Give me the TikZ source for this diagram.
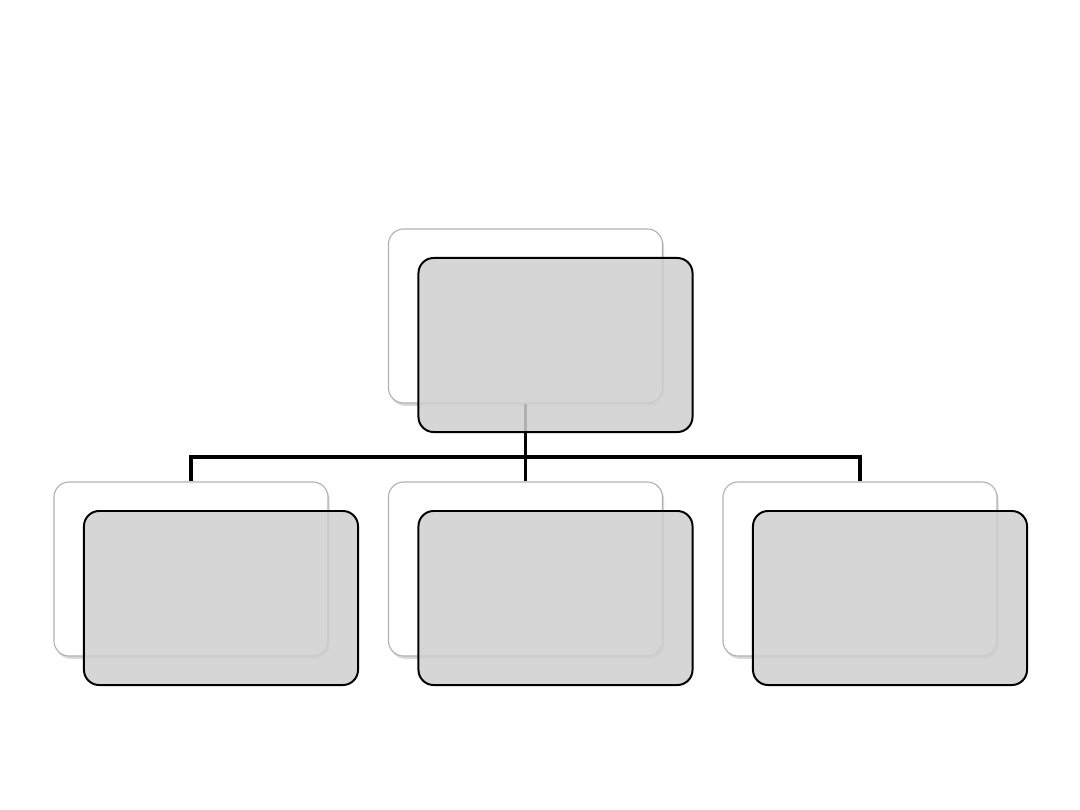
\documentclass[tikz,border=0pt]{standalone}
\usepackage{tikz}
\usetikzlibrary{positioning, shadows}

\begin{document}
\begin{tikzpicture}[x=0.025cm, y=-0.025cm,
    backbox/.style={rectangle, rounded corners=0.38cm, minimum width=6.85cm, minimum height=4.35cm,
                    inner sep=0pt, draw=black!30, line width=0.8pt, fill=white,
                    drop shadow={shadow xshift=0.4mm, shadow yshift=-0.7mm, opacity=0.3}},
    frontbox/.style={rectangle, rounded corners=0.38cm, minimum width=6.85cm, minimum height=4.35cm,
                     inner sep=0pt, draw=black, line width=1.4pt, fill=black!19, fill opacity=0.85},
    conn/.style={line width=2.3pt, black}]

    \useasboundingbox (0,0) rectangle (1080,810);

    % Back boxes
    \node[backbox] (backtop) at (525.5,316) {};
    \node[backbox] (backleft) at (191,569) {};
    \node[backbox] (backmid) at (525.5,569) {};
    \node[backbox] (backright) at (860,569) {};

    % Connectors
    \coordinate (branch) at (525.5,457);
    \draw[conn] (backtop.south) -- (branch);
    \draw[conn] (branch) -| (backleft.north);
    \draw[conn] (branch) -- (backmid.north);
    \draw[conn] (branch) -| (backright.north);

    % Front boxes
    \node[frontbox] (top) at ([shift={(30,29)}]backtop) {};
    \node[frontbox] (left) at ([shift={(30,29)}]backleft) {};
    \node[frontbox] (mid) at ([shift={(30,29)}]backmid) {};
    \node[frontbox] (right) at ([shift={(30,29)}]backright) {};

\end{tikzpicture}
\end{document}
